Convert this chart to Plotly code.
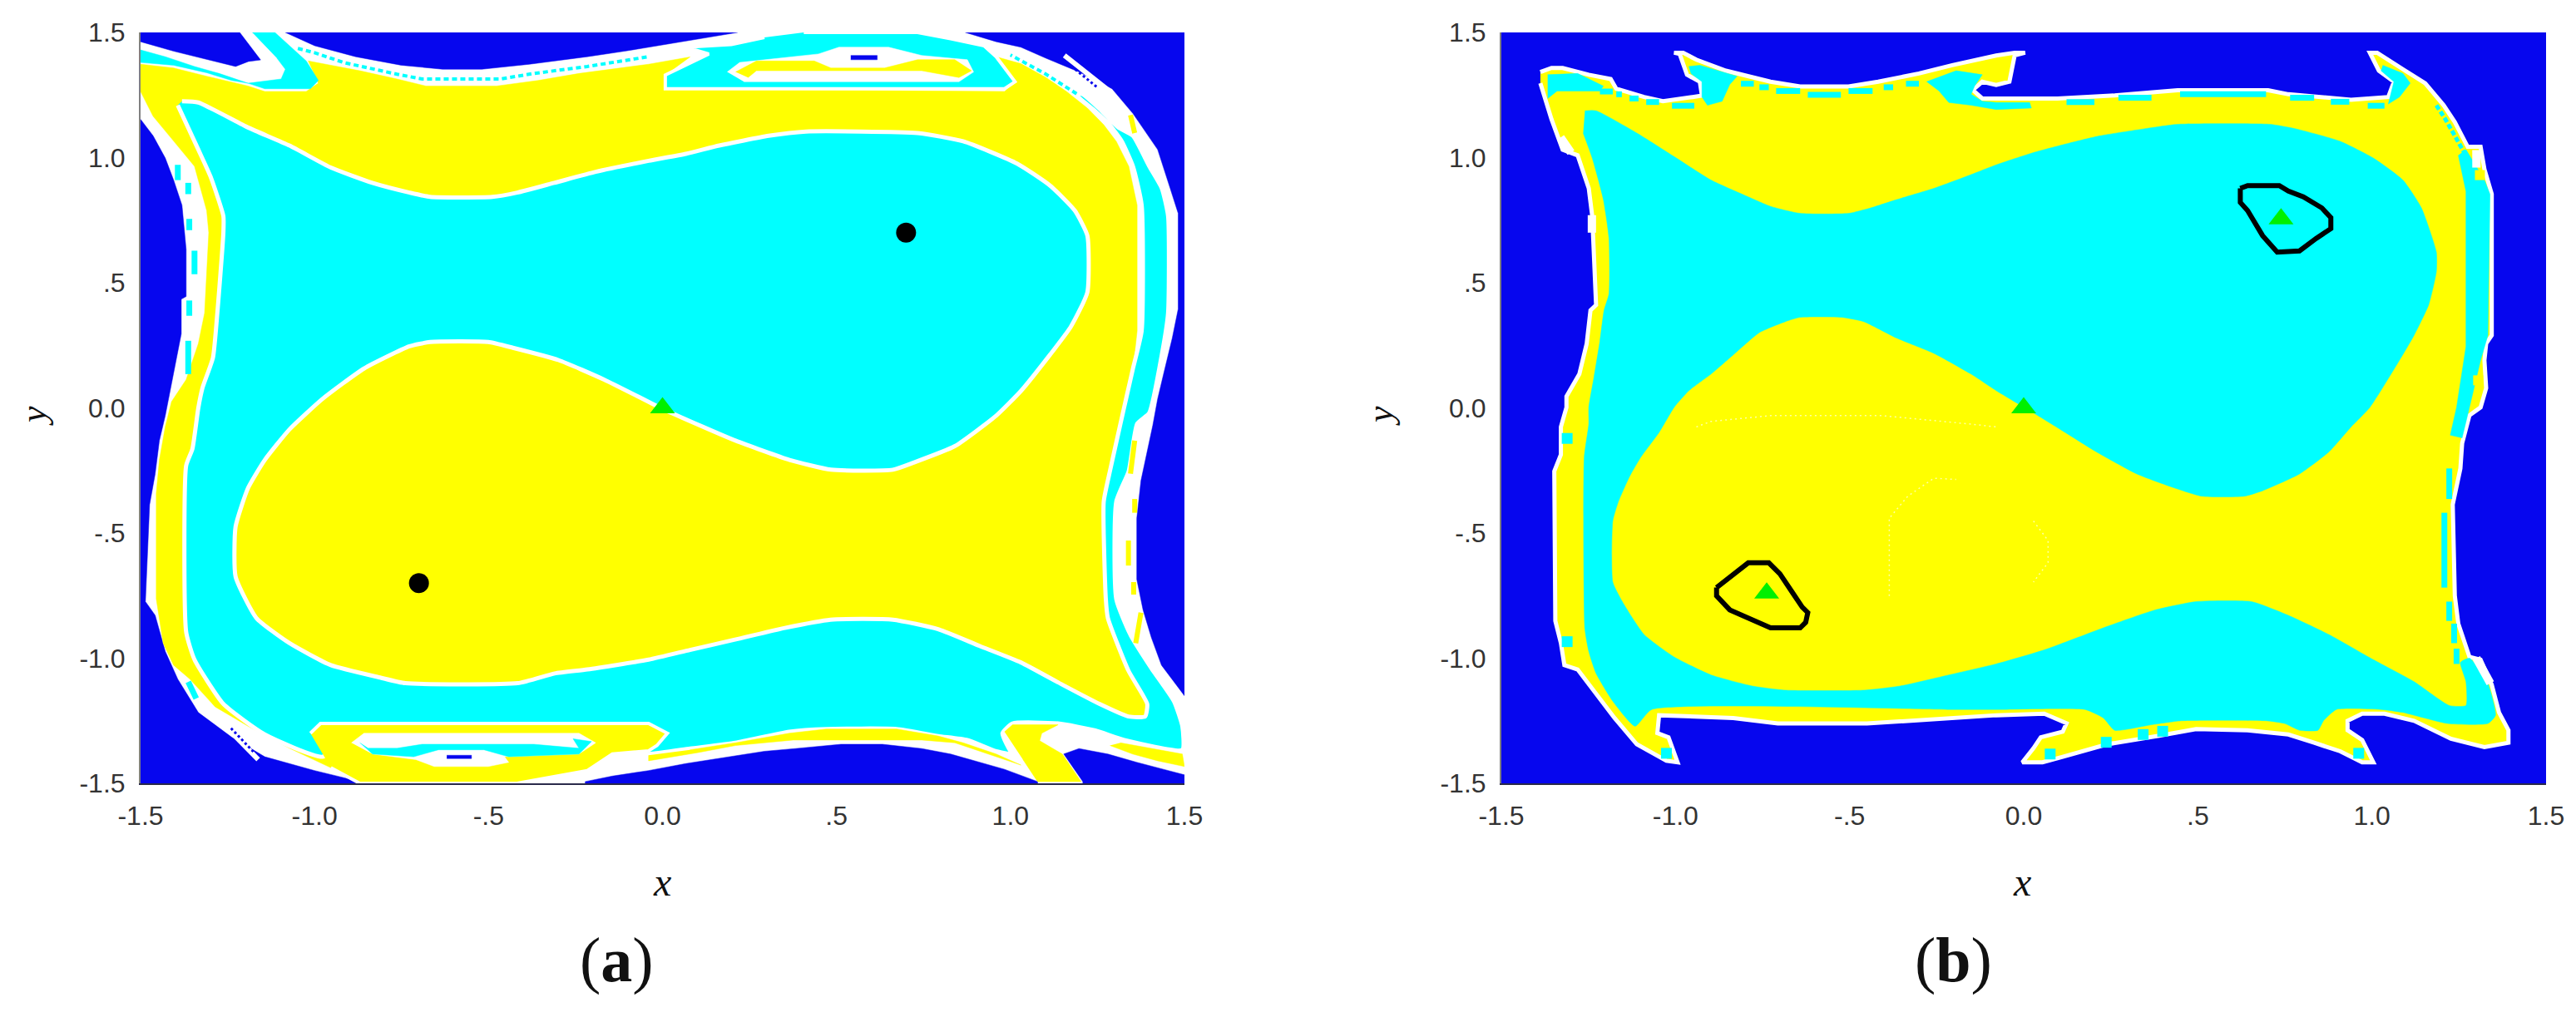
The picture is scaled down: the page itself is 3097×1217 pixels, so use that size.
import plotly.graph_objects as go
from plotly.subplots import make_subplots

BLUE = "#0606ee"
CYAN = "#00ffff"
YELLOW = "#ffff00"
GREEN = "#00f000"

tick_vals = [-1.5, -1.0, -0.5, 0.0, 0.5, 1.0, 1.5]
tick_text = ["-1.5", "-1.0", "-.5", "0.0", ".5", "1.0", "1.5"]

# ---------- panel a: outlines (x, y) ----------
a_blue_tl = [(-1.5,1.5),(-1.215,1.5),(-1.155,1.39),(-1.19,1.384),(-1.227,1.364),(-1.334,1.40),(-1.405,1.425),(-1.5,1.463)]
a_blue_top = [(-1.084,1.5),(-1.0,1.447),(-.882,1.403),(-.751,1.369),(-.632,1.353),(-.519,1.353),(-.382,1.373),(-.216,1.403),
              (-.109,1.425),(-.04,1.441),(.056,1.463),(.139,1.48),(.216,1.5)]
a_blue_right = [(.87,1.5),(.959,1.463),(1.03,1.441),(1.102,1.397),(1.197,1.342),(1.292,1.275),(1.352,1.176),(1.423,1.032),
                (1.459,.877),(1.482,.777),(1.482,.395),(1.465,.279),(1.441,.141),(1.423,.036),(1.409,-.07),(1.393,-.175),
                (1.375,-.291),(1.363,-.441),(1.363,-.685),(1.381,-.807),(1.405,-.918),(1.434,-1.028),(1.5,-1.15),(1.5,1.5)]
a_blue_left = [(-1.5,1.153),(-1.464,1.087),(-1.429,.998),(-1.405,.91),(-1.381,.81),(-1.369,.633),(-1.369,.445),(-1.383,.434),
               (-1.383,.296),(-1.399,.18),(-1.414,.069),(-1.429,-.031),(-1.446,-.131),(-1.458,-.263),(-1.474,-.386),(-1.486,-.774),
               (-1.458,-.829),(-1.429,-.973),(-1.393,-1.084),(-1.334,-1.217),(-1.238,-1.316),(-1.143,-1.394),(-1.0,-1.449),
               (-.87,-1.493),(-.87,-1.5),(-1.5,-1.5)]
a_blue_bottom = [(-.222,-1.5),(-.222,-1.493),(-.144,-1.471),(-.04,-1.449),(.067,-1.421),(.138,-1.405),(.216,-1.388),(.293,-1.372),
                 (.382,-1.361),(.513,-1.344),(.632,-1.344),(.745,-1.361),(.828,-1.383),(.911,-1.416),(.983,-1.444),(1.078,-1.493),(1.078,-1.5)]
a_blue_br = [(1.208,-1.5),(1.208,-1.493),(1.153,-1.383),(1.197,-1.361),(1.28,-1.383),(1.363,-1.416),(1.44,-1.444),(1.5,-1.466),(1.5,-1.5)]

a_yellow = [(-1.5,1.373),(-1.405,1.358),(-1.31,1.325),(-1.191,1.286),(-1.143,1.264),(-1.024,1.264),(-.989,1.297),(-1.018,1.386),
            (-.953,1.369),(-.87,1.347),(-.763,1.314),(-.68,1.286),(-.477,1.286),(-.358,1.308),(-.24,1.336),(-.04,1.373),(.079,1.402),
            (.008,1.33),(.008,1.275),(.983,1.264),(1.013,1.303),(.959,1.403),(1.03,1.375),(1.102,1.32),(1.161,1.264),(1.221,1.198),
            (1.268,1.131),(1.304,1.065),(1.34,.965),(1.364,.81),(1.364,.307),(1.352,.157),(1.334,.047),(1.316,-.064),(1.286,-.252),
            (1.268,-.375),(1.274,-.763),(1.28,-.84),(1.339,-1.05),(1.393,-1.183),(1.387,-1.233),(.9,-1.2),(-1.0,-1.25),(-.953,-1.438),
            (-1.072,-1.36),(-1.191,-1.272),(-1.286,-1.194),(-1.358,-1.084),(-1.405,-1.028),(-1.435,-.94),(-1.455,-.763),(-1.455,-.342),
            (-1.446,-.208),(-1.429,-.075),(-1.411,.025),(-1.369,.113),(-1.334,.257),(-1.316,.379),(-1.304,.70),(-1.31,.788),(-1.345,.965),
            (-1.411,1.076),(-1.464,1.165),(-1.5,1.264)]

# main cyan spiral, right strip pinched off near the top right
a_cyan = [(-1.381,1.225),(-1.334,1.22),(-1.191,1.12),(-1.072,1.048),(-.953,.96),(-.834,.899),(-.727,.86),(-.668,.843),(-.489,.843),
          (-.418,.86),(-.311,.899),(-.192,.943),(-.04,.987),(.067,1.015),(.163,1.048),(.305,1.087),(.412,1.104),(.733,1.098),(.864,1.065),
          (1.019,.976),(1.114,.888),(1.185,.788),(1.221,.688),(1.221,.462),(1.173,.323),(1.114,.213),(1.031,.069),(.959,-.031),(.84,-.153),
          (.721,-.219),(.662,-.247),(.484,-.247),(.365,-.208),(.21,-.131),(.079,-.053),(.008,-.009),(-.04,.024),(-.168,.113),(-.299,.191),
          (-.43,.24),(-.501,.263),(-.668,.263),(-.727,.246),(-.858,.157),(-.977,.036),(-1.072,-.086),(-1.143,-.208),(-1.191,-.32),
          (-1.227,-.475),(-1.227,-.674),(-1.167,-.84),(-1.072,-.94),(-.953,-1.028),(-.81,-1.078),(-.739,-1.1),(-.416,-1.1),(-.31,-1.061),
          (-.216,-1.045),(-.04,-1.006),(.079,-.967),(.198,-.929),(.352,-.879),(.483,-.846),(.662,-.846),(.792,-.884),(.911,-.951),(1.03,-1.017),
          (1.149,-1.106),(1.256,-1.183),(1.339,-1.233),(1.387,-1.233),(1.393,-1.183),(1.339,-1.05),(1.28,-.84),(1.274,-.763),(1.268,-.375),
          (1.286,-.252),(1.316,-.064),(1.334,.047),(1.352,.157),(1.377,.307),(1.377,.81),(1.352,.965),(1.32,1.065),(1.285,1.131),(1.24,1.19),
          (1.19,1.25),(1.205,1.255),(1.26,1.19),(1.31,1.12),(1.352,1.087),(1.399,.965),(1.435,.877),(1.453,.767),(1.453,.379),
          (1.435,.213),(1.399,-.02),(1.364,-.064),(1.34,-.252),(1.304,-.375),(1.304,-.763),(1.345,-.907),(1.405,-1.04),(1.47,-1.172),(1.494,-1.272),
          (1.494,-1.366),(1.327,-1.327),(1.244,-1.289),(1.137,-1.261),(1.006,-1.261),(.977,-1.3),(1.006,-1.383),(1.036,-1.394),(.959,-1.372),
          (.876,-1.327),(.792,-1.311),(.673,-1.283),(.471,-1.283),(.364,-1.294),(.21,-1.338),(.079,-1.361),(-.04,-1.383),(-.9,-1.32),(-.977,-1.394),
          (-1.143,-1.305),(-1.262,-1.183),(-1.345,-1.006),(-1.369,-.895),(-1.369,-.231),(-1.351,-.164),(-1.334,0.0),(-1.322,.08),(-1.292,.2),
          (-1.28,.368),(-1.262,.70),(-1.262,.766),(-1.298,.921),(-1.334,1.032),(-1.393,1.209)]

a_cyan_top = [(.406,1.5),(.733,1.5),(.828,1.475),(.924,1.447),(.959,1.403),(1.013,1.303),(.983,1.275),(.008,1.275),(.008,1.33),(.133,1.414),
              (.067,1.441),(.198,1.452),(.293,1.48)]
a_white_top = [(.186,1.342),(.222,1.38),(.448,1.414),(.507,1.441),(.650,1.441),(.745,1.408),(.876,1.391),(.894,1.342),(.852,1.303),(.234,1.303)]
a_yellow_top = [(.21,1.342),(.27,1.386),(.436,1.386),(.484,1.358),(.638,1.358),(.733,1.391),(.84,1.391),(.888,1.347),(.852,1.32),(.745,1.347),
                (.389,1.347),(.27,1.347),(.246,1.32)]
a_dash_top = [(.541,1.408),(.617,1.408),(.617,1.391),(.541,1.391)]

a_yellow_bottom = [(-1.012,-1.30),(-.983,-1.261),(-.04,-1.261),(.014,-1.30),(-.016,-1.349),(-.04,-1.37),(-.144,-1.383),(-.216,-1.449),(-.418,-1.5),
                   (-.87,-1.5),(-.953,-1.438)]
a_white_bottom = [(-.894,-1.338),(-.858,-1.30),(-.24,-1.30),(-.192,-1.338),(-.24,-1.383),(-.454,-1.394),(-.442,-1.416),(-.501,-1.433),(-.656,-1.433),
                  (-.709,-1.405),(-.834,-1.383)]
a_cyan_bottom = [(-.87,-1.338),(-.846,-1.36),(-.763,-1.36),(-.691,-1.344),(-.37,-1.344),(-.24,-1.36),(-.257,-1.322),(-.204,-1.333),(-.24,-1.383),
                 (-.442,-1.394),(-.513,-1.366),(-.644,-1.366),(-.715,-1.394),(-.834,-1.383)]
a_dash_bottom = [(-.62,-1.388),(-.549,-1.388),(-.549,-1.401),(-.62,-1.401)]

a_yellow_strip = [(.079,-1.366),(.21,-1.338),(.364,-1.30),(.471,-1.283),(.673,-1.283),(.792,-1.311),(.864,-1.338),(.959,-1.383),(1.03,-1.427),
                  (.911,-1.372),(.84,-1.338),(.745,-1.327),(.376,-1.327),(.293,-1.338),(.21,-1.349),(.103,-1.377),(-.04,-1.41),(-.04,-1.388)]
a_yellow_wing = [(.983,-1.294),(1.006,-1.266),(1.137,-1.266),(1.09,-1.30),(1.084,-1.33),(1.149,-1.383),(1.203,-1.493),(1.078,-1.493),(1.036,-1.405)]
a_yellow_corner = [(1.316,-1.338),(1.494,-1.383),(1.5,-1.433),(1.423,-1.41),(1.351,-1.383),(1.286,-1.349)]
a_cyan_crescent = [(-1.179,1.5),(-1.114,1.5),(-1.024,1.386),(-.989,1.308),(-1.012,1.275),(-1.143,1.275),(-1.191,1.297),(-1.096,1.314),(-1.084,1.353),(-1.108,1.397)]
a_cyan_corner = [(-1.5,1.43),(-1.429,1.403),(-1.345,1.364),(-1.274,1.336),(-1.191,1.297),(-1.238,1.308),(-1.31,1.339),(-1.405,1.369),(-1.5,1.38)]

a_cyan_thin_x = [-1.048,-1.0,-.917,-.834,-.763,-.691,-.466,-.37,-.216,-.04,None,1.19,1.1,1.0]
a_cyan_thin_y = [1.436,1.419,1.38,1.353,1.333,1.314,1.314,1.336,1.364,1.403,None,1.255,1.335,1.41]
a_cyan_dash_x = [-1.393,-1.393,None,-1.363,-1.363,None,-1.36,-1.36,None,-1.345,-1.345,None,-1.36,-1.36,None,-1.363,-1.363,None,-1.363,-1.34]
a_cyan_dash_y = [.971,.91,None,.899,.854,None,.755,.71,None,.628,.534,None,.429,.368,None,.268,.135,None,-1.095,-1.161]
a_yellow_dash_x = [1.357,1.357,None,1.339,1.339,None,1.354,1.354,None,1.375,1.36,None,1.357,1.345,None,1.345,1.357]
a_yellow_dash_y = [-.364,-.419,None,-.53,-.63,None,-.696,-.746,None,-.818,-.94,None,-.131,-.263,None,1.17,1.098]
a_streak_x = [1.155,1.29,None,-1.256,-1.162]
a_streak_y = [1.408,1.26,None,-1.272,-1.405]
a_streak_blue_x = [1.175,1.25,None,-1.24,-1.175]
a_streak_blue_y = [1.365,1.28,None,-1.28,-1.375]

a_dots_x = [.7,-.7]
a_dots_y = [.7,-.7]
saddle_x = [0.0]
saddle_y = [0.0]

# ---------- panel b ----------
b_frame = [(-1.5,-1.5),(1.5,-1.5),(1.5,1.5),(-1.5,1.5)]
b_outline = [(-1.388,1.342),(-1.356,1.358),(-1.324,1.358),(-1.249,1.331),(-1.186,1.314),(-1.17,1.275),(-1.09,1.242),(-1.036,1.225),(-.951,1.242),
             (-.924,1.248),(-.93,1.303),(-.967,1.331),(-.988,1.414),(-1.004,1.419),(-.978,1.419),(-.94,1.391),(-.855,1.347),(-.727,1.303),(-.642,1.284),
             (-.503,1.284),(-.418,1.303),(-.301,1.336),(-.205,1.369),(-.079,1.408),(-.026,1.419),(.004,1.419),(-.026,1.408),(-.041,1.303),(-.079,1.29),
             (-.119,1.303),(-.146,1.27),(-.119,1.236),(-.079,1.236),(.097,1.236),(.261,1.248),(.442,1.269),(.702,1.269),(.76,1.253),(.94,1.231),(1.047,1.242),
             (1.063,1.303),(1.02,1.347),(.994,1.419),(1.015,1.419),(1.089,1.353),(1.153,1.297),(1.206,1.209),(1.238,1.142),(1.275,1.043),(1.312,1.043),
             (1.323,.954),(1.344,.854),(1.344,.29),(1.328,.257),(1.323,.19),(1.328,.079),(1.312,.002),(1.28,-.03),(1.259,-.142),(1.254,-.242),(1.232,-.386),
             (1.238,-.751),(1.248,-.862),(1.28,-.995),(1.312,-1.006),(1.344,-1.106),(1.365,-1.217),(1.392,-1.288),(1.392,-1.338),(1.323,-1.355),(1.227,-1.322),
             (1.121,-1.25),(1.036,-1.222),(.972,-1.222),(.93,-1.25),(.93,-1.288),(.972,-1.327),(1.004,-1.416),(.972,-1.416),(.909,-1.372),(.834,-1.338),
             (.76,-1.305),(.643,-1.288),(.495,-1.283),(.389,-1.31),(.24,-1.344),(.112,-1.394),(.054,-1.416),(-.004,-1.416),(.028,-1.36),(.049,-1.316),
             (.112,-1.294),(.123,-1.26),(.059,-1.222),(-.079,-1.228),(-.269,-1.244),(-.45,-1.261),(-.706,-1.261),(-.834,-1.239),(-1.047,-1.228),(-1.052,-1.299),
             (-1.02,-1.316),(-.994,-1.416),(-1.026,-1.41),(-1.111,-1.344),(-1.175,-1.239),(-1.249,-1.106),(-1.281,-1.045),(-1.319,-1.028),(-1.329,-.94),
             (-1.345,-.851),(-1.348,-.253),(-1.329,-.187),(-1.329,-.076),(-1.313,.002),(-1.313,.046),(-1.276,.135),(-1.255,.256),(-1.244,.39),(-1.228,.411),
             (-1.239,.766),(-1.249,.877),(-1.281,1.009),(-1.324,1.031),(-1.356,1.153),(-1.377,1.242),(-1.388,1.297)]
b_cyan = [(-1.26,1.187),(-1.228,1.187),(-1.111,1.098),(-1.004,1.004),(-.898,.91),(-.791,.843),(-.727,.805),(-.642,.777),(-.503,.777),(-.439,.799),(-.365,.832),
          (-.258,.877),(-.151,.932),(-.079,.971),(.028,1.02),(.134,1.059),(.219,1.087),(.346,1.115),(.442,1.133),(.707,1.133),(.781,1.115),(.909,1.065),(1.004,.998),
          (1.089,.91),(1.142,.799),(1.185,.622),(1.185,.544),(1.163,.412),(1.121,.29),(1.079,.19),(.994,.002),(.94,-.076),(.877,-.175),(.792,-.264),(.686,-.331),
          (.633,-.353),(.511,-.353),(.431,-.319),(.325,-.264),(.208,-.175),(.112,-.092),(.028,-.02),(-.079,.069),(-.151,.135),(-.258,.218),(-.365,.279),(-.46,.345),
          (-.524,.362),(-.642,.362),(-.684,.345),(-.759,.301),(-.834,.212),(-.898,.135),(-.962,.068),(-1.004,.002),(-1.047,-.098),(-1.1,-.198),(-1.132,-.275),
          (-1.164,-.375),(-1.18,-.452),(-1.18,-.696),(-1.148,-.785),(-1.09,-.906),(-1.004,-.995),(-.898,-1.067),(-.78,-1.111),(-.684,-1.128),(-.46,-1.128),(-.354,-1.111),
          (-.215,-1.067),(-.079,-1.023),(.059,-.967),(.24,-.873),(.378,-.807),(.495,-.774),(.654,-.774),(.76,-.829),(.877,-.906),(1.004,-1.006),(1.121,-1.094),(1.222,-1.189),
          (1.27,-1.189),(1.27,-1.094),(1.254,-1.017),(1.28,-1.0),(1.33,-1.09),(1.355,-1.228),(1.333,-1.261),(1.217,-1.261),(1.089,-1.217),(1.025,-1.205),(.898,-1.205),
          (.861,-1.25),(.845,-1.288),(.792,-1.288),(.749,-1.261),(.696,-1.25),(.452,-1.25),(.367,-1.266),(.261,-1.288),(.229,-1.239),(.176,-1.205),(-.079,-1.205),(-.205,-1.205),
          (-1.068,-1.205),(-1.116,-1.272),(-1.18,-1.172),(-1.228,-1.061),(-1.249,-.973),(-1.26,-.884),(-1.262,-.198),(-1.249,-.065),(-1.249,.002),(-1.234,.123),(-1.217,.267),
          (-1.205,.39),(-1.191,.456),(-1.191,.677),(-1.207,.832),(-1.239,.998),(-1.265,1.098)]
b_cyan_strip = [(1.248,1.009),(1.27,.865),(1.27,.245),(1.243,.002),(1.225,-.109),(1.259,-.12),(1.28,.002),(1.312,.19),(1.333,.29),(1.339,.854),(1.323,.91),(1.27,1.032)]
b_cyan_tl = [(-1.367,1.331),(-1.281,1.336),(-1.207,1.286),(-1.217,1.266),(-1.34,1.266),(-1.367,1.236)]
b_cyan_wedge1 = [(-.962,1.364),(-.93,1.369),(-.823,1.325),(-.844,1.292),(-.866,1.225),(-.908,1.209),(-.924,1.242),(-.924,1.303),(-.956,1.336)]
b_cyan_wedge2 = [(-.279,1.303),(-.194,1.347),(-.119,1.331),(-.141,1.286),(-.151,1.253),(-.119,1.225),(-.079,1.22),(.017,1.22),(.022,1.198),(-.079,1.192),(-.151,1.209),(-.215,1.22),(-.242,1.264)]
b_cyan_wedge3 = [(1.031,1.369),(1.089,1.336),(1.11,1.297),(1.079,1.242),(1.047,1.214),(1.063,1.303),(1.026,1.347)]
b_cyan_dash_x = [-1.217,-1.18,None,-1.17,-1.154,None,-1.132,-1.106,None,-1.084,-1.047,None,-1.01,-.946,None,-.812,-.775,None,-.759,-.732,None,-.711,-.642,None,
                 -.62,-.525,None,-.503,-.434,None,-.402,-.375,None,-.338,-.301,None,.123,.203,None,.272,.367,None,.449,.696,None,.765,.834,None,.882,.935,None,.988,1.036,None,
                 1.222,1.222,None,1.208,1.208,None,1.222,1.222,None,1.236,1.236,None,1.243,1.243]
b_cyan_dash_y = [1.264,1.264,None,1.253,1.253,None,1.236,1.236,None,1.222,1.222,None,1.207,1.207,None,1.295,1.295,None,1.281,1.281,None,1.266,1.266,None,
                 1.251,1.251,None,1.266,1.266,None,1.281,1.281,None,1.295,1.295,None,1.222,1.222,None,1.239,1.239,None,1.253,1.253,None,1.239,1.239,None,1.223,1.223,None,1.207,1.207,None,
                 -.242,-.364,None,-.419,-.718,None,-.774,-.851,None,-.862,-.94,None,-.962,-1.023]
b_cyan_thin_x = [1.185,1.211,1.238,1.265]
b_cyan_thin_y = [1.209,1.153,1.087,1.02]
b_cyan_spots_x = [.343,.399,.237,.076,.962,-1.026,-1.311,-1.311]
b_cyan_spots_y = [-1.305,-1.292,-1.336,-1.383,-1.38,-1.38,-.934,-.122]
b_white_lump_x = [1.30,1.30,None,-1.33,-1.30,None,1.3,1.34,None,-1.24,-1.24]
b_white_lump_y = [1.03,.96,None,1.08,1.02,None,-1.0,-1.1,None,.77,.7]
b_yellow_spots_x = [1.31,1.305]
b_yellow_spots_y = [.93,.11]
b_pale_x = [-.386,-.386,-.333,-.258,-.194,None,.028,.07,.07,.028,None,-.94,-.898,-.727,-.407,-.151,-.079]
b_pale_y = [-.752,-.441,-.353,-.281,-.286,None,-.452,-.53,-.618,-.696,None,-.076,-.054,-.031,-.031,-.065,-.076]
b_loop_up = [(.622,.877),(.643,.888),(.734,.888),(.76,.866),(.803,.843),(.856,.799),(.882,.76),(.882,.716),(.84,.677),(.792,.627),(.728,.622),(.686,.688),(.643,.788),(.622,.821),(.622,.877)]
b_loop_down = [(-.882,-.718),(-.844,-.674),(-.791,-.619),(-.732,-.619),(-.7,-.663),(-.663,-.74),(-.636,-.796),(-.62,-.818),(-.626,-.857),(-.642,-.879),(-.727,-.879),(-.791,-.84),(-.844,-.807),(-.882,-.751),(-.882,-.718)]
b_tri_x = [0.0,.739,-.738]
b_tri_y = [0.0,.755,-.74]

fig = make_subplots(rows=1, cols=2)


def poly(pts, color, col, edge=None, edge_w=0, smooth=0):
    xs = [p[0] for p in pts]
    ys = [p[1] for p in pts]
    ln = dict(color=edge if edge else color, width=edge_w if edge else 0.5)
    if smooth:
        ln["shape"] = "spline"
        ln["smoothing"] = smooth
    fig.add_trace(go.Scatter(x=xs, y=ys, mode="lines", fill="toself", fillcolor=color, line=ln,
                             hoverinfo="skip"), row=1, col=col)


def stroke(xs, ys, color, width, col, dash=None):
    fig.add_trace(go.Scatter(x=xs, y=ys, mode="lines", line=dict(color=color, width=width, dash=dash),
                             hoverinfo="skip"), row=1, col=col)


def marks(xs, ys, symbol, color, size, col):
    fig.add_trace(go.Scatter(x=xs, y=ys, mode="markers", hoverinfo="skip",
                             marker=dict(symbol=symbol, color=color, size=size, line=dict(width=0))), row=1, col=col)


# panel a
for p in [a_blue_tl, a_blue_top, a_blue_right, a_blue_left, a_blue_bottom, a_blue_br]:
    poly(p, BLUE, 1)
stroke(a_streak_x, a_streak_y, "white", 6, 1)
stroke(a_streak_blue_x, a_streak_blue_y, BLUE, 3, 1, "dot")
poly(a_yellow, YELLOW, 1)
poly(a_cyan, CYAN, 1, "white", 5, smooth=0.5)
poly(a_cyan_top, CYAN, 1, "white", 4)
poly(a_white_top, "white", 1)
poly(a_yellow_top, YELLOW, 1)
poly(a_dash_top, BLUE, 1)
poly(a_yellow_bottom, YELLOW, 1, "white", 4)
poly(a_white_bottom, "white", 1)
poly(a_cyan_bottom, CYAN, 1)
poly(a_dash_bottom, BLUE, 1)
poly(a_yellow_strip, YELLOW, 1)
poly(a_yellow_wing, YELLOW, 1)
poly(a_yellow_corner, YELLOW, 1)
poly(a_cyan_crescent, CYAN, 1)
poly(a_cyan_corner, CYAN, 1)
stroke(a_cyan_thin_x, a_cyan_thin_y, CYAN, 4, 1, "6px,4px")
stroke(a_cyan_dash_x, a_cyan_dash_y, CYAN, 7, 1)
stroke(a_yellow_dash_x, a_yellow_dash_y, YELLOW, 6, 1)
marks(a_dots_x, a_dots_y, "circle", "black", 24, 1)
marks(saddle_x, saddle_y, "triangle-up", GREEN, 26, 1)

# panel b
poly(b_frame, BLUE, 2)
poly(b_outline, YELLOW, 2, "white", 5)
poly(b_cyan, CYAN, 2, smooth=0.5)
poly(b_cyan_strip, CYAN, 2)
poly(b_cyan_tl, CYAN, 2)
poly(b_cyan_wedge1, CYAN, 2)
poly(b_cyan_wedge2, CYAN, 2)
poly(b_cyan_wedge3, CYAN, 2)
stroke(b_cyan_dash_x, b_cyan_dash_y, CYAN, 7, 2)
stroke(b_cyan_thin_x, b_cyan_thin_y, CYAN, 5, 2, "6px,3px")
stroke(b_white_lump_x, b_white_lump_y, "white", 10, 2)
marks(b_cyan_spots_x, b_cyan_spots_y, "square", CYAN, 13, 2)
marks(b_yellow_spots_x, b_yellow_spots_y, "square", YELLOW, 12, 2)
stroke(b_pale_x, b_pale_y, "#ffffa8", 1.5, 2, "2px,4px")
stroke([p[0] for p in b_loop_up], [p[1] for p in b_loop_up], "black", 6, 2)
stroke([p[0] for p in b_loop_down], [p[1] for p in b_loop_down], "black", 6, 2)
marks(b_tri_x, b_tri_y, "triangle-up", GREEN, 26, 2)

# page body has an 8px margin, so the figure is a bit smaller and everything moves by it
W = 3081
H = 1201
OFF = 8

axis_style = dict(range=[-1.5, 1.5], tickvals=tick_vals, ticktext=tick_text, showgrid=False, zeroline=False, automargin=False,
                  ticks="outside", ticklen=10, tickcolor="rgba(0,0,0,0)", showline=True, linewidth=2,
                  tickfont=dict(family="Liberation Sans", size=32, color="#333333"))
fig.update_xaxes(linecolor="#2a2a4a", **axis_style)
fig.update_yaxes(linecolor="#808080", **axis_style)
y_dom = [1 - (942 - OFF) / H, 1 - (39 - OFF) / H]
fig.update_layout(xaxis=dict(domain=[(169 - OFF) / W, (1424 - OFF) / W]), xaxis2=dict(domain=[(1805 - OFF) / W, (3061 - OFF) / W]),
                  yaxis=dict(domain=y_dom), yaxis2=dict(domain=y_dom))

labels = [
    (796, 1060, "<i>x</i>", 48, 0), (2431, 1060, "<i>x</i>", 48, 0),
    (40, 500, "<i>y</i>", 44, -90), (1659, 500, "<i>y</i>", 44, -90),
    (741, 1154, "(<b>a</b>)", 76, 0), (2348, 1154, "(<b>b</b>)", 76, 0),
]
for px, py, txt, size, ang in labels:
    fig.add_annotation(x=(px - OFF) / W, y=1 - (py - OFF) / H, xref="paper", yref="paper", text=txt, showarrow=False, textangle=ang,
                       xanchor="center", yanchor="middle", font=dict(family="Liberation Serif", size=size, color="#111111"))

fig.update_layout(width=W, height=H, margin=dict(l=0, r=0, t=0, b=0), showlegend=False,
                  paper_bgcolor="white", plot_bgcolor="white")

fig.write_html("out.html")
